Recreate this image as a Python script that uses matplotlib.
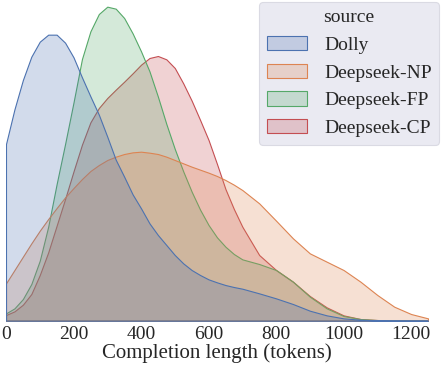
import matplotlib
matplotlib.use("Agg")
import matplotlib.pyplot as plt
from matplotlib.patches import Patch
import numpy as np

# completion length grid (tokens) and KDE heights (arbitrary units)
tokens = [0, 25, 50, 75, 100, 125, 150, 175, 200, 225, 250, 275, 300, 325, 350,
          375, 400, 425, 450, 475, 500, 525, 550, 575, 600, 625, 650, 675, 700,
          750, 800, 850, 900, 950, 1000, 1050, 1100, 1150, 1200, 1250]

dolly = [530, 634, 722, 792, 837, 858, 858, 834, 790, 730, 673, 618, 552, 483, 432,
         379, 337, 292, 257, 227, 197, 172, 152, 137, 124, 115, 107, 101, 96,
         82, 67, 50, 30, 16, 7, 3, 1, 0.5, 0.3, 0.2]
deepseek_np = [112, 152, 192, 232, 270, 305, 338, 370, 398, 425, 449, 467, 482, 492, 500,
               505, 507, 504, 500, 492, 482, 472, 462, 453, 444, 434, 422, 408, 392,
               352, 300, 247, 202, 177, 152, 117, 77, 42, 20, 7]
deepseek_fp = [22, 37, 65, 110, 180, 282, 410, 530, 655, 785, 868, 920, 942, 936, 908,
               862, 808, 748, 672, 590, 515, 448, 387, 333, 287, 250, 222, 200, 184,
               170, 152, 117, 72, 37, 14, 5, 2, 0.5, 0.2, 0.1]
deepseek_cp = [17, 28, 48, 80, 137, 205, 285, 365, 448, 528, 595, 638, 668, 693, 717,
               742, 768, 788, 794, 784, 758, 712, 660, 602, 542, 470, 395, 335, 282,
               197, 152, 117, 74, 40, 16, 5, 2, 0.5, 0.2, 0.1]

sources = ["Dolly", "Deepseek-NP", "Deepseek-FP", "Deepseek-CP"]
colors = ["#4C72B0", "#DD8452", "#55A868", "#C44E52"]
series = [dolly, deepseek_np, deepseek_fp, deepseek_cp]

plt.rcParams["font.family"] = ["Liberation Serif", "DejaVu Serif"]

fig = plt.figure(figsize=(4.42, 3.66), dpi=100)
ax = fig.add_axes([6 / 442, 45.3 / 366, 422 / 442, 320.7 / 366])

x = np.array(tokens)
# seaborn draws hue levels in reverse order
for name, c, y in reversed(list(zip(sources, colors, series))):
    ax.fill_between(x, 0, y, facecolor=matplotlib.colors.to_rgba(c, 0.25),
                    edgecolor=c, linewidth=0.8, joinstyle="round")

ax.set_xlim(0, 1250)
ax.set_ylim(0, 962)
ax.set_yticks([])
ax.set_xticks([0, 200, 400, 600, 800, 1000, 1200])
ax.tick_params(axis="x", length=0, pad=4, labelsize=14, colors="#262626")
ax.set_xlabel("Completion length (tokens)", fontsize=15, color="#262626", labelpad=0)
for s in ax.spines.values():
    s.set_visible(False)

handles = [Patch(facecolor=matplotlib.colors.to_rgba(c, 0.25), edgecolor=c, linewidth=0.8)
           for c in colors]
leg = fig.legend(handles, sources, title="source", loc="upper right",
                 bbox_to_anchor=(439.3 / 442, 1 - 1.7 / 366), borderaxespad=0,
                 fontsize=14, title_fontsize=14, handlelength=2.1,
                 handleheight=0.75, handletextpad=0.85, labelspacing=0.5,
                 fancybox=True, framealpha=1)
leg.get_frame().set_facecolor("#EAEAF2")
leg.get_frame().set_edgecolor("#DADAE3")
leg.get_frame().set_linewidth(0.8)
for t in leg.get_texts():
    t.set_color("#262626")
leg.get_title().set_color("#262626")

fig.savefig("out.png", dpi=100)
